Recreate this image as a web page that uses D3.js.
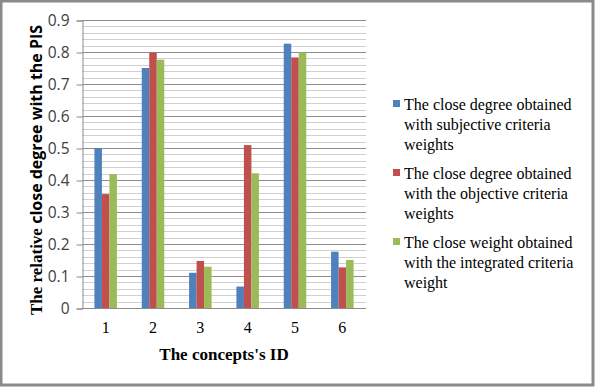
<!DOCTYPE html>
<html>
<head>
<meta charset="utf-8">
<script src="https://cdn.jsdelivr.net/npm/d3@7"></script>
<style>
  body { margin: 0; background: #fff; }
  svg { display: block; }
</style>
</head>
<body>
<div id="chart"></div>
<script>
// concept IDs on the x axis
const concepts = ["1", "2", "3", "4", "5", "6"];

// series values
const subjective = [0.50, 0.75, 0.11, 0.067, 0.826, 0.176];
const objective = [0.356, 0.798, 0.147, 0.509, 0.783, 0.127];
const integrated = [0.418, 0.776, 0.129, 0.421, 0.799, 0.15];

const seriesNames = [
  ["The close degree obtained", "with subjective criteria", "weights"],
  ["The close degree obtained", "with the objective criteria", "weights"],
  ["The close weight obtained", "with the integrated criteria", "weight"]
];
const seriesColors = ["#4F81BD", "#C0504D", "#9BBB59"];

const yTicks = [0, 0.1, 0.2, 0.3, 0.4, 0.5, 0.6, 0.7, 0.8, 0.9];

window.onload = () => {
  const width = 596, height = 388;
  const left = 82, right = 366, top = 20, bottom = 308;

  const svg = d3.select("#chart").append("svg")
    .attr("width", width)
    .attr("height", height);

  // outer frame
  svg.append("rect")
    .attr("x", 1).attr("y", 1)
    .attr("width", width - 4).attr("height", height - 4)
    .attr("fill", "#fff")
    .attr("stroke", "#8a8a8a")
    .attr("stroke-width", 3);

  const x = d3.scaleBand()
    .domain(concepts)
    .range([left, right]);

  const inner = d3.scaleBand()
    .domain([0, 1, 2])
    .range([0, 22.5]);

  const y = d3.scaleLinear()
    .domain([0, 0.9])
    .range([bottom, top]);

  // minor gridlines every 0.02
  const minor = d3.range(0, 91, 2).map(v => v / 100).filter(v => Math.round(v * 100) % 10 !== 0);
  svg.append("g").selectAll("line")
    .data(minor)
    .enter().append("line")
    .attr("x1", left).attr("x2", right)
    .attr("y1", d => Math.round(y(d)) + 0.5)
    .attr("y2", d => Math.round(y(d)) + 0.5)
    .attr("stroke", "#d0d0d0");

  // major gridlines
  svg.append("g").selectAll("line")
    .data(yTicks.slice(1))
    .enter().append("line")
    .attr("x1", left).attr("x2", right)
    .attr("y1", d => Math.round(y(d)) + 0.5)
    .attr("y2", d => Math.round(y(d)) + 0.5)
    .attr("stroke", "#8c8c8c");

  // y axis
  const yAxis = d3.axisLeft(y)
    .tickValues(yTicks)
    .tickFormat(d => d === 0 ? "0" : d3.format(".1f")(d))
    .tickSize(6)
    .tickPadding(7);

  const yg = svg.append("g")
    .attr("transform", `translate(${left + 0.5},0.5)`)
    .call(yAxis);
  yg.select(".domain").attr("stroke", "#8c8c8c");
  yg.selectAll(".tick line").attr("stroke", "#8c8c8c");
  yg.selectAll("text")
    .style("font-family", "'Open Sans', 'Liberation Sans', sans-serif")
    .style("font-size", "15.5px")
    .attr("fill", "#404040");

  // x axis line
  svg.append("line")
    .attr("x1", left).attr("x2", right)
    .attr("y1", bottom + 0.5).attr("y2", bottom + 0.5)
    .attr("stroke", "#8c8c8c");

  // bars
  const series = [subjective, objective, integrated];
  series.forEach((vals, s) => {
    svg.append("g").selectAll("rect")
      .data(vals)
      .enter().append("rect")
      .attr("x", (d, i) => x(concepts[i]) + x.bandwidth() / 2 - 11.25 + inner(s))
      .attr("y", d => y(d))
      .attr("width", inner.bandwidth())
      .attr("height", d => bottom - y(d))
      .attr("fill", seriesColors[s]);
  });

  // x tick labels
  svg.append("g").selectAll("text")
    .data(concepts)
    .enter().append("text")
    .attr("x", d => x(d) + x.bandwidth() / 2)
    .attr("y", 333)
    .attr("text-anchor", "middle")
    .style("font-family", "'Liberation Serif', 'Times New Roman', serif")
    .style("font-size", "16px")
    .attr("fill", "#000")
    .text(d => d);

  // x axis title
  svg.append("text")
    .attr("x", (left + right) / 2)
    .attr("y", 360)
    .attr("text-anchor", "middle")
    .style("font-family", "'Liberation Serif', 'Times New Roman', serif")
    .style("font-size", "17px")
    .style("font-weight", "bold")
    .text("The concepts's ID");

  // y axis title
  const yt = svg.append("text")
    .attr("transform", `translate(42,170) rotate(-90)`)
    .attr("text-anchor", "middle")
    .style("font-weight", "bold")
    .style("font-size", "16px");
  yt.append("tspan")
    .style("font-family", "'Liberation Serif', 'Times New Roman', serif")
    .style("font-size", "17px")
    .text("The relative ");
  yt.append("tspan")
    .style("font-family", "'Open Sans', 'Liberation Sans', sans-serif")
    .text("close degree with the PIS");

  // legend
  const legend = svg.append("g")
    .attr("transform", "translate(382,0)");
  const entryY = [110, 179, 248];
  seriesNames.forEach((lines, s) => {
    const g = legend.append("g")
      .attr("transform", `translate(0,${entryY[s]})`);
    g.append("rect")
      .attr("x", 11).attr("y", -10)
      .attr("width", 7).attr("height", 7)
      .attr("fill", seriesColors[s]);
    lines.forEach((t, i) => {
      g.append("text")
        .attr("x", 22)
        .attr("y", i * 20)
        .style("font-family", "'Liberation Serif', 'Times New Roman', serif")
        .style("font-size", "16px")
        .attr("fill", "#000")
        .text(t);
    });
  });
};
</script>
</body>
</html>
